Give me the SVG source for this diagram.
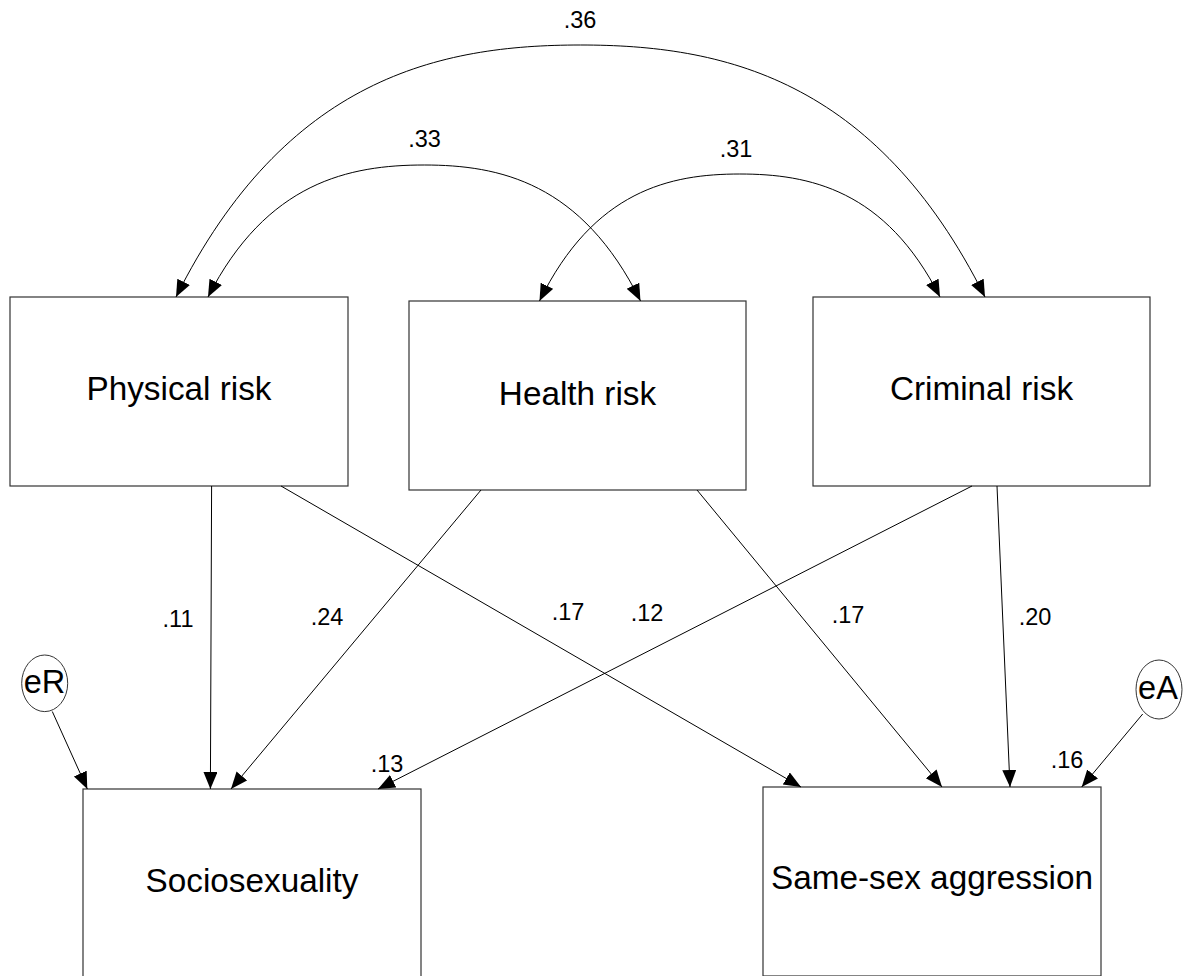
<svg xmlns="http://www.w3.org/2000/svg" width="1191" height="976" viewBox="0 0 1191 976">
<defs>
<marker id="ah" markerUnits="userSpaceOnUse" markerWidth="18" markerHeight="15" refX="17" refY="7" orient="auto-start-reverse"><path d="M0,0 L17,7 L0,14 Z" fill="#000"/></marker>
</defs>
<style>
.box{fill:#fff;stroke:#333;stroke-width:1.2}
.err{fill:#fff;stroke:#333;stroke-width:1}
.lbl{font-family:"Liberation Sans",Arial,sans-serif;font-size:33.3px;text-anchor:middle;fill:#000}
.elbl{font-family:"Liberation Sans",Arial,sans-serif;font-size:32.5px;text-anchor:middle;fill:#000}
.num{font-family:"Liberation Sans",Arial,sans-serif;font-size:23.5px;text-anchor:middle;fill:#000}
.reg{fill:none;stroke:#000;stroke-width:1;marker-end:url(#ah)}
.cov{fill:none;stroke:#000;stroke-width:1;marker-start:url(#ah);marker-end:url(#ah)}
</style>
<rect width="1191" height="976" fill="#fff"/>
<g id="physical"><rect class="box" x="10" y="297" width="338" height="189"/><text class="lbl" x="179" y="400">Physical risk</text></g>
<g id="health"><rect class="box" x="409" y="301" width="337" height="189"/><text class="lbl" x="577.5" y="405">Health risk</text></g>
<g id="criminal"><rect class="box" x="813" y="297" width="337" height="189"/><text class="lbl" x="981.5" y="400">Criminal risk</text></g>
<g id="sociosexuality"><rect class="box" x="83" y="789" width="338" height="189"/><text class="lbl" x="252" y="892">Sociosexuality</text></g>
<g id="aggression"><rect class="box" x="763" y="787" width="338" height="189"/><text class="lbl" x="932" y="889">Same-sex aggression</text></g>
<g id="eR"><ellipse class="err" cx="44.7" cy="683.3" rx="23" ry="28.3"/><text class="elbl" x="44.5" y="692.7">eR</text></g>
<g id="eA"><ellipse class="err" cx="1159" cy="689.5" rx="23" ry="29.5"/><text class="elbl" x="1158" y="699">eA</text></g>
<g id="connectors">
<path class="cov" d="M176,297 C286,77 440.5,45 580.5,45 C720.5,45 875,77 985,297"/>
<path class="cov" d="M208,297 C266.8,181.8 349.4,165 424.25,165 C499.25,165 581.7,182.3 640.5,301"/>
<path class="cov" d="M539.5,301 C594,190.1 670.4,174 739.75,174 C809.1,174 885.5,189.6 940,297"/>
<path class="reg" d="M211.6,486 L210.4,789"/>
<path class="reg" d="M481,490 L231,789"/>
<path class="reg" d="M281,486 L801,787"/>
<path class="reg" d="M697,490 L942,787"/>
<path class="reg" d="M972,486 L378,789"/>
<path class="reg" d="M997,486 L1010,787"/>
<path class="reg" d="M52.3,711.5 L87.3,789"/>
<path class="reg" d="M1142.7,714 L1081.7,787"/>
</g>
<g id="labels">
<text class="num" x="580" y="28">.36</text>
<text class="num" x="424.5" y="146.7">.33</text>
<text class="num" x="736" y="156.7">.31</text>
<text class="num" x="178" y="627">.11</text>
<text class="num" x="327" y="625">.24</text>
<text class="num" x="568" y="620">.17</text>
<text class="num" x="647" y="621">.12</text>
<text class="num" x="848" y="623">.17</text>
<text class="num" x="1035" y="625">.20</text>
<text class="num" x="387" y="772">.13</text>
<text class="num" x="1067" y="768">.16</text>
</g>
</svg>
